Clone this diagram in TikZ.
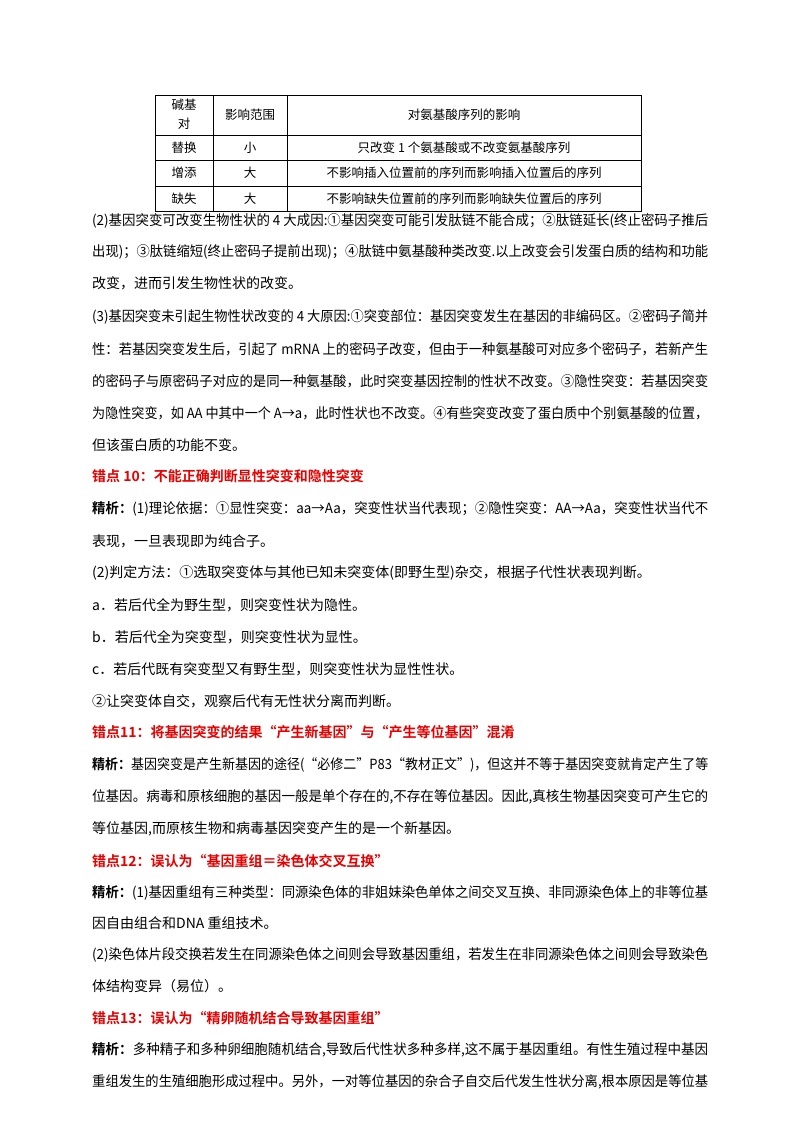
\documentclass[tikz,border=0pt]{standalone}
\usepackage{fontspec}
\usepackage{graphicx}
\setmainfont{Noto Sans CJK SC}[BoldFont={Noto Sans CJK SC Bold}]
\XeTeXinterchartokenstate=1
\newcount\cc
\newcommand\setcls[2]{\cc=#1 \loop\XeTeXcharclass\cc=7 \ifnum\cc<#2 \advance\cc by 1 \repeat}
\setcls{"4E00}{"9FFF}
\setcls{"3000}{"303F}
\setcls{"FF00}{"FFEF}
\setcls{"2460}{"2473}
\XeTeXcharclass"201C=7 \XeTeXcharclass"201D=7 \XeTeXcharclass"2192=7
\XeTeXinterchartoks 7 7 = {\hskip 0pt plus 1pt\relax}
\XeTeXinterchartoks 7 0 = {\hskip 0pt plus 1pt\relax}
\XeTeXinterchartoks 0 7 = {\hskip 0pt plus 1pt\relax}
\definecolor{errred}{RGB}{230,0,0}
\tikzset{ln/.style={anchor=west,inner sep=0pt,font=\fontsize{14}{16}\selectfont},
 tb/.style={inner sep=0pt,font=\fontsize{12.5}{15}\selectfont},
 hd/.style={ln,text=errred,font=\fontsize{14}{16}\selectfont\bfseries}}
\newsavebox\jbox
\newcommand\J[1]{\sbox\jbox{#1}\ifdim\wd\jbox>616pt\relax\resizebox{616pt}{\height}{\usebox\jbox}\else\makebox[616pt][s]{#1}\fi}
\begin{document}
\begin{tikzpicture}[x=1pt,y=-1pt]
\useasboundingbox[fill=white] (0,0) rectangle (800,1132);
% table
\draw[line width=0.6pt] (155,95) rectangle (641,211);
\draw[line width=0.6pt] (155,135) -- (641,135) (155,160) -- (641,160) (155,186) -- (641,186)
  (213,95) -- (213,211) (287,95) -- (287,211);
\node[tb] (h1) at (184,105) {碱基};
\node[tb] (h1b) at (184,124) {对};
\node[tb] (h2) at (250,115) {影响范围};
\node[tb] (h3) at (464,115) {对氨基酸序列的影响};
\node[tb] (a1) at (184,147.5) {替换};
\node[tb] (a2) at (250,147.5) {小};
\node[tb] (a3) at (464,147.5) {只改变 1 个氨基酸或不改变氨基酸序列};
\node[tb] (b1) at (184,173) {增添};
\node[tb] (b2) at (250,173) {大};
\node[tb] (b3) at (464,173) {不影响插入位置前的序列而影响插入位置后的序列};
\node[tb] (c1) at (184,198.5) {缺失};
\node[tb] (c2) at (250,198.5) {大};
\node[tb] (c3) at (464,198.5) {不影响缺失位置前的序列而影响缺失位置后的序列};
% text
\node[ln] (l1) at (92,221) {\J{(2)基因突变可改变生物性状的 4 大成因:①基因突变可能引发肽链不能合成；②肽链延长(终止密码子推后}};
\node[ln] (l2) at (92,252) {\J{出现)；③肽链缩短(终止密码子提前出现)；④肽链中氨基酸种类改变.以上改变会引发蛋白质的结构和功能}};
\node[ln] (l3) at (92,283) {改变，进而引发生物性状的改变。};
\node[ln] (l4) at (92,317) {\J{(3)基因突变未引起生物性状改变的 4 大原因:①突变部位：基因突变发生在基因的非编码区。②密码子简并}};
\node[ln] (l5) at (92,349) {\J{性：若基因突变发生后，引起了 mRNA 上的密码子改变，但由于一种氨基酸可对应多个密码子，若新产生}};
\node[ln] (l6) at (92,381) {\J{的密码子与原密码子对应的是同一种氨基酸，此时突变基因控制的性状不改变。③隐性突变：若基因突变}};
\node[ln] (l7) at (92,413) {\J{为隐性突变，如 AA 中其中一个 A→a，此时性状也不改变。④有些突变改变了蛋白质中个别氨基酸的位置，}};
\node[ln] (l8) at (92,445) {但该蛋白质的功能不变。};
\node[hd] (l9) at (92,476) {错点 10：不能正确判断显性突变和隐性突变};
\node[ln] (l10) at (92,509) {\J{\textbf{精析：}(1)理论依据：①显性突变：aa→Aa，突变性状当代表现；②隐性突变：AA→Aa，突变性状当代不}};
\node[ln] (l11) at (92,541) {表现，一旦表现即为纯合子。};
\node[ln] (l12) at (92,573) {(2)判定方法：①选取突变体与其他已知未突变体(即野生型)杂交，根据子代性状表现判断。};
\node[ln] (l13) at (92,605) {a．若后代全为野生型，则突变性状为隐性。};
\node[ln] (l14) at (92,637) {b．若后代全为突变型，则突变性状为显性。};
\node[ln] (l15) at (92,669) {c．若后代既有突变型又有野生型，则突变性状为显性性状。};
\node[ln] (l16) at (92,701) {②让突变体自交，观察后代有无性状分离而判断。};
\node[hd] (l17) at (92,732) {错点11：将基因突变的结果“产生新基因”与“产生等位基因”混淆};
\node[ln] (l18) at (92,765) {\J{\textbf{精析：}基因突变是产生新基因的途径(“必修二”P83“教材正文”)，但这并不等于基因突变就肯定产生了等}};
\node[ln] (l19) at (92,797) {\J{位基因。病毒和原核细胞的基因一般是单个存在的,不存在等位基因。因此,真核生物基因突变可产生它的}};
\node[ln] (l20) at (92,829) {等位基因,而原核生物和病毒基因突变产生的是一个新基因。};
\node[hd] (l21) at (92,861) {错点12：误认为“基因重组＝染色体交叉互换”};
\node[ln] (l22) at (92,893) {\J{\textbf{精析：}(1)基因重组有三种类型：同源染色体的非姐妹染色单体之间交叉互换、非同源染色体上的非等位基}};
\node[ln] (l23) at (92,923) {因自由组合和DNA 重组技术。};
\node[ln] (l24) at (92,955) {\J{(2)染色体片段交换若发生在同源染色体之间则会导致基因重组，若发生在非同源染色体之间则会导致染色}};
\node[ln] (l25) at (92,986) {体结构变异（易位）。};
\node[hd] (l26) at (92,1018) {错点13：误认为“精卵随机结合导致基因重组”};
\node[ln] (l27) at (92,1050) {\J{\textbf{精析：}多种精子和多种卵细胞随机结合,导致后代性状多种多样,这不属于基因重组。有性生殖过程中基因}};
\node[ln] (l28) at (92,1082) {\J{重组发生的生殖细胞形成过程中。另外，一对等位基因的杂合子自交后代发生性状分离,根本原因是等位基}};
\end{tikzpicture}
\end{document}
